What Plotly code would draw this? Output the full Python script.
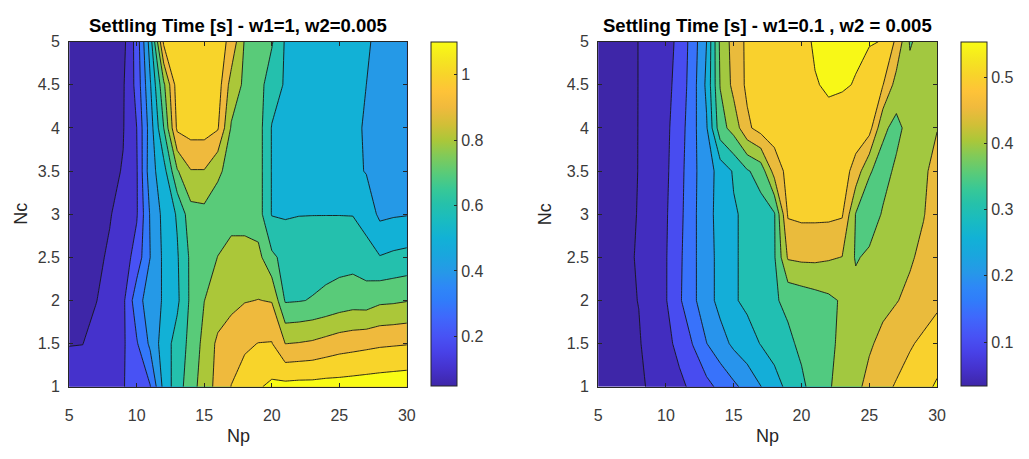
import plotly.graph_objects as go

# ---- grid: prediction horizon (Np) and control horizon (Nc) ----
np_values = list(range(5, 31))
nc_values = [1.0, 1.5, 2.0, 2.5, 3.0, 3.5, 4.0, 4.5, 5.0]

# ---- settling time [s], w1 = 1, w2 = 0.005 (one list per Nc row, Np = 5..30) ----
ts_a_nc10 = [0.13, 0.135, 0.15, 0.17, 0.195, 0.245, 0.295, 0.53, 0.655, 0.755, 0.85, 0.93, 1.002, 1.045, 1.09, 1.12, 1.13, 1.135, 1.135, 1.14, 1.14, 1.145, 1.15, 1.155, 1.16, 1.165]
ts_a_nc15 = [0.098, 0.099, 0.125, 0.15, 0.185, 0.29, 0.42, 0.55, 0.64, 0.73, 0.83, 0.92, 0.96, 0.985, 1.002, 1.005, 0.899, 0.905, 0.915, 0.935, 0.955, 0.965, 0.975, 0.985, 0.99, 0.995]
ts_a_nc20 = [0.065, 0.08, 0.098, 0.13, 0.18, 0.36, 0.45, 0.51, 0.58, 0.72, 0.799, 0.84, 0.87, 0.895, 0.902, 0.895, 0.69, 0.695, 0.705, 0.72, 0.74, 0.755, 0.75, 0.78, 0.785, 0.795]
ts_a_nc25 = [0.07, 0.075, 0.085, 0.11, 0.15, 0.24, 0.40, 0.52, 0.59, 0.72, 0.77, 0.801, 0.84, 0.85, 0.83, 0.72, 0.67, 0.66, 0.66, 0.665, 0.665, 0.665, 0.64, 0.605, 0.62, 0.63]
ts_a_nc30 = [0.06, 0.065, 0.075, 0.095, 0.13, 0.19, 0.41, 0.53, 0.61, 0.76, 0.77, 0.77, 0.76, 0.75, 0.745, 0.595, 0.59, 0.597, 0.598, 0.598, 0.598, 0.597, 0.56, 0.48, 0.49, 0.495]
ts_a_nc35 = [0.05, 0.055, 0.06, 0.08, 0.105, 0.19, 0.46, 0.56, 0.79, 0.895, 0.895, 0.81, 0.78, 0.76, 0.745, 0.595, 0.585, 0.575, 0.565, 0.555, 0.54, 0.52, 0.495, 0.47, 0.45, 0.44]
ts_a_nc40 = [0.05, 0.05, 0.055, 0.07, 0.095, 0.2, 0.45, 0.7, 1.02, 1.04, 1.04, 1.01, 0.79, 0.755, 0.745, 0.595, 0.585, 0.575, 0.565, 0.555, 0.54, 0.52, 0.49, 0.46, 0.44, 0.43]
ts_a_nc45 = [0.05, 0.05, 0.055, 0.065, 0.09, 0.23, 0.49, 0.78, 1.05, 1.06, 1.06, 1.05, 0.86, 0.78, 0.74, 0.645, 0.59, 0.58, 0.57, 0.56, 0.545, 0.525, 0.50, 0.47, 0.45, 0.44]
ts_a_nc50 = [0.05, 0.05, 0.055, 0.06, 0.07, 0.24, 0.545, 1.02, 1.05, 1.06, 1.06, 1.05, 0.97, 0.79, 0.75, 0.71, 0.59, 0.575, 0.565, 0.56, 0.55, 0.535, 0.515, 0.47, 0.45, 0.44]

# ---- settling time [s], w1 = 0.1, w2 = 0.005 ----
ts_b_nc10 = [0.042, 0.044, 0.046, 0.048, 0.052, 0.072, 0.088, 0.112, 0.135, 0.163, 0.19, 0.217, 0.249, 0.28, 0.312, 0.34, 0.37, 0.395, 0.418, 0.44, 0.462, 0.485, 0.505, 0.522, 0.537, 0.556]
ts_b_nc15 = [0.041, 0.043, 0.046, 0.048, 0.06, 0.085, 0.115, 0.152, 0.199, 0.23, 0.26, 0.28, 0.302, 0.32, 0.34, 0.36, 0.375, 0.39, 0.41, 0.43, 0.445, 0.46, 0.475, 0.495, 0.51, 0.525]
ts_b_nc20 = [0.037, 0.04, 0.046, 0.0505, 0.075, 0.097, 0.143, 0.19, 0.23, 0.265, 0.295, 0.31, 0.325, 0.345, 0.36, 0.37, 0.38, 0.39, 0.405, 0.42, 0.43, 0.44, 0.448, 0.46, 0.475, 0.49]
ts_b_nc25 = [0.036, 0.04, 0.046, 0.052, 0.072, 0.097, 0.14, 0.19, 0.23, 0.265, 0.295, 0.31, 0.33, 0.345, 0.455, 0.46, 0.46, 0.455, 0.449, 0.395, 0.41, 0.42, 0.43, 0.445, 0.46, 0.47]
ts_b_nc30 = [0.036, 0.039, 0.045, 0.051, 0.07, 0.095, 0.135, 0.19, 0.23, 0.27, 0.295, 0.31, 0.33, 0.345, 0.505, 0.51, 0.51, 0.51, 0.505, 0.398, 0.37, 0.405, 0.43, 0.44, 0.448, 0.47]
ts_b_nc35 = [0.036, 0.038, 0.044, 0.0505, 0.068, 0.092, 0.13, 0.19, 0.225, 0.27, 0.305, 0.345, 0.37, 0.47, 0.515, 0.525, 0.53, 0.535, 0.525, 0.48, 0.405, 0.38, 0.41, 0.43, 0.445, 0.46]
ts_b_nc40 = [0.036, 0.038, 0.043, 0.0505, 0.067, 0.09, 0.125, 0.185, 0.245, 0.38, 0.42, 0.49, 0.52, 0.525, 0.53, 0.535, 0.54, 0.545, 0.54, 0.53, 0.52, 0.41, 0.385, 0.42, 0.435, 0.449]
ts_b_nc45 = [0.036, 0.038, 0.042, 0.0505, 0.066, 0.088, 0.115, 0.18, 0.26, 0.402, 0.465, 0.51, 0.52, 0.53, 0.535, 0.54, 0.549, 0.552, 0.552, 0.549, 0.535, 0.502, 0.43, 0.42, 0.42, 0.43]
ts_b_nc50 = [0.036, 0.038, 0.042, 0.0505, 0.065, 0.085, 0.11, 0.175, 0.25, 0.41, 0.47, 0.51, 0.52, 0.53, 0.535, 0.545, 0.552, 0.553, 0.554, 0.553, 0.552, 0.549, 0.49, 0.395, 0.42, 0.425]

ts_a = [ts_a_nc10, ts_a_nc15, ts_a_nc20, ts_a_nc25, ts_a_nc30, ts_a_nc35, ts_a_nc40, ts_a_nc45, ts_a_nc50]
ts_b = [ts_b_nc10, ts_b_nc15, ts_b_nc20, ts_b_nc25, ts_b_nc30, ts_b_nc35, ts_b_nc40, ts_b_nc45, ts_b_nc50]

# contour levels and colour limits
levels_a = (0.1, 1.1, 0.1)
levels_b = (0.05, 0.55, 0.05)
clim_a = (0.049, 1.101)
clim_b = (0.034, 0.554)
cbar_ticks_a = [0.2, 0.4, 0.6, 0.8, 1.0]
cbar_text_a = ["0.2", "0.4", "0.6", "0.8", "1"]
cbar_ticks_b = [0.1, 0.2, 0.3, 0.4, 0.5]
cbar_text_b = ["0.1", "0.2", "0.3", "0.4", "0.5"]

titles = ["Settling Time [s] - w1=1, w2=0.005", "Settling Time [s] - w1=0.1 , w2 = 0.005"]
x_ticks = [5, 10, 15, 20, 25, 30]
y_ticks = [1, 1.5, 2, 2.5, 3, 3.5, 4, 4.5, 5]
y_tick_text = ["1", "1.5", "2", "2.5", "3", "3.5", "4", "4.5", "5"]

# parula-like colormap anchors
PARULA = [
    (0.000, (62, 38, 168)), (0.050, (69, 50, 205)), (0.100, (72, 66, 232)),
    (0.143, (72, 82, 244)), (0.200, (63, 104, 252)), (0.250, (48, 125, 250)),
    (0.286, (46, 135, 247)), (0.330, (38, 152, 232)), (0.380, (26, 166, 222)),
    (0.429, (18, 177, 214)), (0.480, (25, 187, 193)), (0.530, (38, 193, 170)),
    (0.571, (55, 200, 151)), (0.620, (90, 203, 120)), (0.670, (130, 202, 88)),
    (0.714, (171, 199, 57)), (0.760, (209, 191, 55)), (0.810, (240, 186, 61)),
    (0.857, (254, 195, 56)), (0.905, (248, 212, 42)), (0.950, (245, 230, 32)),
    (1.000, (249, 251, 21)),
]


def parula(t):
    t = min(max(t, 0.0), 1.0)
    for (t0, c0), (t1, c1) in zip(PARULA, PARULA[1:]):
        if t <= t1:
            f = (t - t0) / (t1 - t0)
            return "rgb(%d,%d,%d)" % tuple(round(a + (b - a) * f) for a, b in zip(c0, c1))
    return "rgb(%d,%d,%d)" % PARULA[-1][1]


def band_scale(levels, clim):
    # each filled band takes the colour of its lower contour level
    start, end, size = levels
    n = int(round((end - start) / size)) + 1
    lowers = [clim[0]] + [start + i * size for i in range(n)]
    cols = [parula((lv - clim[0]) / (clim[1] - clim[0])) for lv in lowers]
    return [[k / n, c] for k, c in enumerate(cols)]


parula_scale = [[t, "rgb(%d,%d,%d)" % c] for t, c in PARULA]

W, H = 1029, 459
FONT = "Liberation Sans, Arial, Helvetica, sans-serif"
AXC = "#262626"
TICKC = "#3a3a3a"

panels = [
    dict(z=ts_a, levels=levels_a, clim=clim_a, cticks=cbar_ticks_a, ctext=cbar_text_a,
         xa="x", ya="y", px=(66, 408), cbx=432, ylab=17),
    dict(z=ts_b, levels=levels_b, clim=clim_b, cticks=cbar_ticks_b, ctext=cbar_text_b,
         xa="x2", ya="y2", px=(601.7, 945), cbx=969, ylab=548),
]
top_px, bot_px = 35, 393.3

fig = go.Figure()
for p in panels:
    start, end, size = p["levels"]
    fig.add_trace(go.Contour(
        x=np_values, y=nc_values, z=p["z"],
        autocontour=False,
        contours=dict(start=start, end=end, size=size, coloring="fill", showlines=True),
        colorscale=band_scale(p["levels"], p["clim"]),
        showscale=False,
        line=dict(color="#161616", width=0.9, smoothing=0),
        xaxis=p["xa"], yaxis=p["ya"], hoverinfo="skip",
    ))
    # continuous colour bar for the panel
    fig.add_trace(go.Scatter(
        x=[None], y=[None], mode="markers", xaxis=p["xa"], yaxis=p["ya"],
        hoverinfo="skip", showlegend=False,
        marker=dict(color=[p["clim"][0]], cmin=p["clim"][0], cmax=p["clim"][1],
                    colorscale=parula_scale, showscale=True,
                    colorbar=dict(
                        x=p["cbx"] / W, xanchor="left", xpad=0,
                        y=(H - top_px) / H, yanchor="top", ypad=0,
                        len=(392 - top_px) / H, lenmode="fraction",
                        thickness=26, thicknessmode="pixels",
                        outlinewidth=1, outlinecolor=AXC,
                        tickvals=p["cticks"], ticktext=p["ctext"],
                        ticks="inside", ticklen=3, tickcolor=AXC,
                        tickfont=dict(family=FONT, size=16, color=TICKC),
                    )),
    ))

axis_common = dict(showline=True, linecolor=AXC, linewidth=1, mirror="ticks",
                   ticks="inside", ticklen=4, tickcolor=AXC, tickwidth=1,
                   showgrid=False, zeroline=False,
                   tickfont=dict(family=FONT, size=16, color=TICKC))

layout = dict(width=W, height=H, margin=dict(l=0, r=0, t=0, b=0),
              paper_bgcolor="white", plot_bgcolor="white", showlegend=False)
ydom = [(H - bot_px) / H, (H - top_px) / H]
for i, p in enumerate(panels):
    sfx = "" if i == 0 else "2"
    layout["xaxis" + sfx] = dict(axis_common, domain=[p["px"][0] / W, p["px"][1] / W],
                                 range=[5, 30], tickvals=x_ticks, anchor="y" + sfx,
                                 ticklabelstandoff=14)
    layout["yaxis" + sfx] = dict(axis_common, domain=ydom, range=[1, 5],
                                 tickvals=y_ticks, ticktext=y_tick_text, anchor="x" + sfx,
                                 ticklabelstandoff=5)
fig.update_layout(**layout)

# titles and axis labels
for i, p in enumerate(panels):
    cx = (p["px"][0] + p["px"][1]) / 2 / W
    fig.add_annotation(text="<b>%s</b>" % titles[i], x=cx, y=(H - 18) / H, xref="paper", yref="paper",
                       showarrow=False, xanchor="center", yanchor="middle",
                       font=dict(family=FONT, size=18.5, color="#000000"))
    fig.add_annotation(text="Np", x=cx, y=(H - 444) / H, xref="paper", yref="paper",
                       showarrow=False, xanchor="center", yanchor="middle",
                       font=dict(family=FONT, size=18, color=AXC))
    fig.add_annotation(text="Nc", x=p["ylab"] / W, y=(H - 214) / H,
                       xref="paper", yref="paper", textangle=-90,
                       showarrow=False, xanchor="center", yanchor="middle",
                       font=dict(family=FONT, size=18, color=AXC))

fig.write_html("out.html", config={"displayModeBar": False})
